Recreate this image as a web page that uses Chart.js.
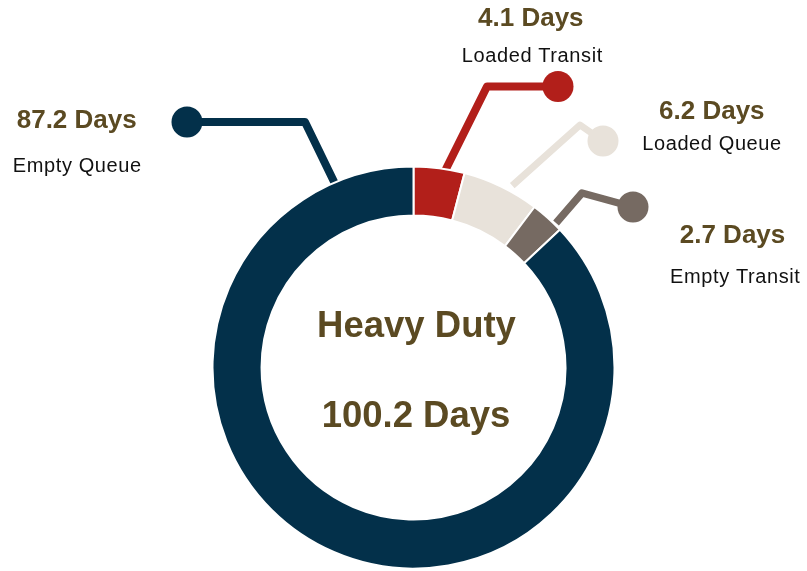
<!DOCTYPE html>
<html>
<head>
<meta charset="utf-8">
<script src="https://cdn.jsdelivr.net/npm/chart.js@4/dist/chart.umd.min.js"></script>
<style>
  html, body { margin: 0; padding: 0; background: #fff; }
  #wrap { width: 807px; height: 571px; }
</style>
</head>
<body>
<div id="wrap"><canvas id="donut" width="807" height="571"></canvas></div>
<script>
// data, clockwise from 12 o'clock
const categories = ['Loaded Transit', 'Loaded Queue', 'Empty Transit', 'Empty Queue'];
const days = [4.1, 6.2, 2.7, 87.2];
const sliceColors = ['#b21f1a', '#e8e2da', '#766a62', '#03304a'];
const centerTitle = 'Heavy Duty';

const total = days.reduce((s, v) => s + v, 0);
const ctx = document.getElementById('donut').getContext('2d');

// leader line + label layout, offsets relative to the doughnut centre
const leaders = [
    { angle: 9,    r: 198, elbow: [73.5, -281],   end: [144.5, -281],   lw: 8,
      value: [530.8, 26],  name: [532, 61.7] },
    { angle: 28.5, r: 207, elbow: [166.5, -242.5], end: [189.5, -226.5], lw: 7,
      value: [711.8, 119.3], name: [711.7, 150] },
    { angle: 44.6, r: 203, elbow: [168.5, -174.5], end: [219.5, -160.5], lw: 7.5,
      value: [732.5, 242.7], name: [735, 282.7] },
    { angle: 337,  r: 190, elbow: [-108.5, -245.5], end: [-226.5, -245.5], lw: 8,
      value: [76.7, 128.3], name: [77, 171.7] }
];

const brown = '#5b4a22';

const leaderPlugin = {
    id: 'leaders',
    beforeDatasetsDraw(chart) {
        const c = chart.ctx;
        const arcs = chart.getDatasetMeta(0).data;
        const cx = arcs[0].x, cy = arcs[0].y;
        c.save();
        leaders.forEach((l, i) => {
            const a = (l.angle - 90) * Math.PI / 180;
            const sx = cx + Math.cos(a) * l.r;
            const sy = cy + Math.sin(a) * l.r;
            c.strokeStyle = sliceColors[i];
            c.fillStyle = sliceColors[i];
            c.lineWidth = l.lw;
            c.lineJoin = 'round';
            c.lineCap = 'butt';
            c.beginPath();
            c.moveTo(sx, sy);
            c.lineTo(cx + l.elbow[0], cy + l.elbow[1]);
            c.lineTo(cx + l.end[0], cy + l.end[1]);
            c.stroke();
            c.beginPath();
            c.arc(cx + l.end[0], cy + l.end[1], 15.5, 0, Math.PI * 2);
            c.fill();
        });
        c.restore();
    },
    afterDatasetsDraw(chart) {
        const c = chart.ctx;
        const arcs = chart.getDatasetMeta(0).data;
        const cx = arcs[0].x;
        c.save();
        c.textAlign = 'center';
        c.textBaseline = 'alphabetic';
        leaders.forEach((l, i) => {
            c.fillStyle = brown;
            c.letterSpacing = '0px';
            c.font = 'bold 26px "Liberation Sans", Arial, sans-serif';
            c.fillText(days[i].toFixed(1) + ' Days', l.value[0], l.value[1]);
            c.fillStyle = '#111';
            c.letterSpacing = '0.6px';
            c.font = '20px "Liberation Sans", Arial, sans-serif';
            c.fillText(categories[i], l.name[0] + 0.3, l.name[1]);
        });
        c.letterSpacing = '0px';
        c.fillStyle = brown;
        c.font = 'bold 36.5px "Liberation Sans", Arial, sans-serif';
        c.fillText(centerTitle, cx + 3, 336.7);
        c.fillText(total.toFixed(1) + ' Days', cx + 2.5, 427.3);
        c.restore();
    }
};

new Chart(ctx, {
    type: 'doughnut',
    data: {
        labels: categories,
        datasets: [{
            data: days,
            backgroundColor: sliceColors,
            borderColor: '#ffffff',
            borderWidth: 2,
            hoverBorderWidth: 2
        }]
    },
    options: {
        responsive: false,
        animation: false,
        cutout: '75.6%',
        layout: { padding: { left: 211.5, top: 165.5, right: 191.5, bottom: 1.5 } },
        plugins: {
            legend: { display: false },
            tooltip: { enabled: false }
        }
    },
    plugins: [leaderPlugin]
});
</script>
</body>
</html>
